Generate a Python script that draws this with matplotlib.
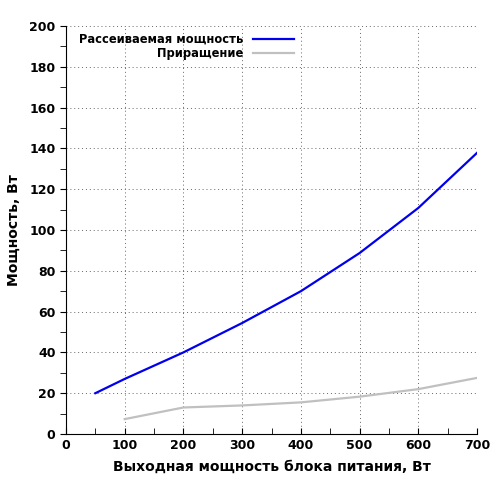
import numpy as np
import matplotlib
matplotlib.use('Agg')
import matplotlib.pyplot as plt
from matplotlib.ticker import MultipleLocator

plt.rcParams['font.family'] = ['DejaVu Sans']
plt.rcParams['font.weight'] = 'bold'

power_x = [50, 100, 200, 300, 400, 500, 600, 700]
dissipated = [20, 27, 40, 54.4, 70, 88.7, 110.8, 137.8]
delta_x = [100, 200, 300, 400, 500, 600, 700]
delta = [7.3, 13, 14, 15.5, 18.3, 22, 27.5]

fig = plt.figure(figsize=(5, 5), dpi=100)
ax = fig.add_axes([0.132, 0.132, 0.822, 0.816])

ax.plot(power_x, dissipated, color='#0000ee', lw=1.6, label='Рассеиваемая мощность')
ax.plot(delta_x, delta, color='#c0c0c0', lw=1.6, label='Приращение')

ax.set_xlim(0, 700)
ax.set_ylim(0, 200)
ax.xaxis.set_major_locator(MultipleLocator(100))
ax.xaxis.set_minor_locator(MultipleLocator(50))
ax.yaxis.set_major_locator(MultipleLocator(20))
ax.yaxis.set_minor_locator(MultipleLocator(10))
ax.tick_params(axis='x', which='both', direction='in', length=4)
ax.tick_params(axis='y', which='both', direction='out', length=4)
ax.tick_params(labelsize=9)
for lab in ax.get_xticklabels() + ax.get_yticklabels():
    lab.set_fontweight('bold')

ax.grid(True, which='major', color='#666666', linestyle=(0, (1, 3)), linewidth=0.7)
ax.spines['top'].set_visible(False)
ax.spines['right'].set_visible(False)

ax.set_xlabel('Выходная мощность блока питания, Вт', fontsize=10, fontweight='bold', labelpad=6)
ax.set_ylabel('Мощность, Вт', fontsize=10, fontweight='bold', labelpad=6)

leg = ax.legend(loc='upper left', markerfirst=False, frameon=False, fontsize=8.3,
                handlelength=3.6, borderaxespad=0.2, labelspacing=0.1,
                bbox_to_anchor=(0.015, 1.0))
for t in leg.get_texts():
    t.set_ha('right')
leg._legend_box.align = 'right'

fig.savefig('out.png', dpi=100)
